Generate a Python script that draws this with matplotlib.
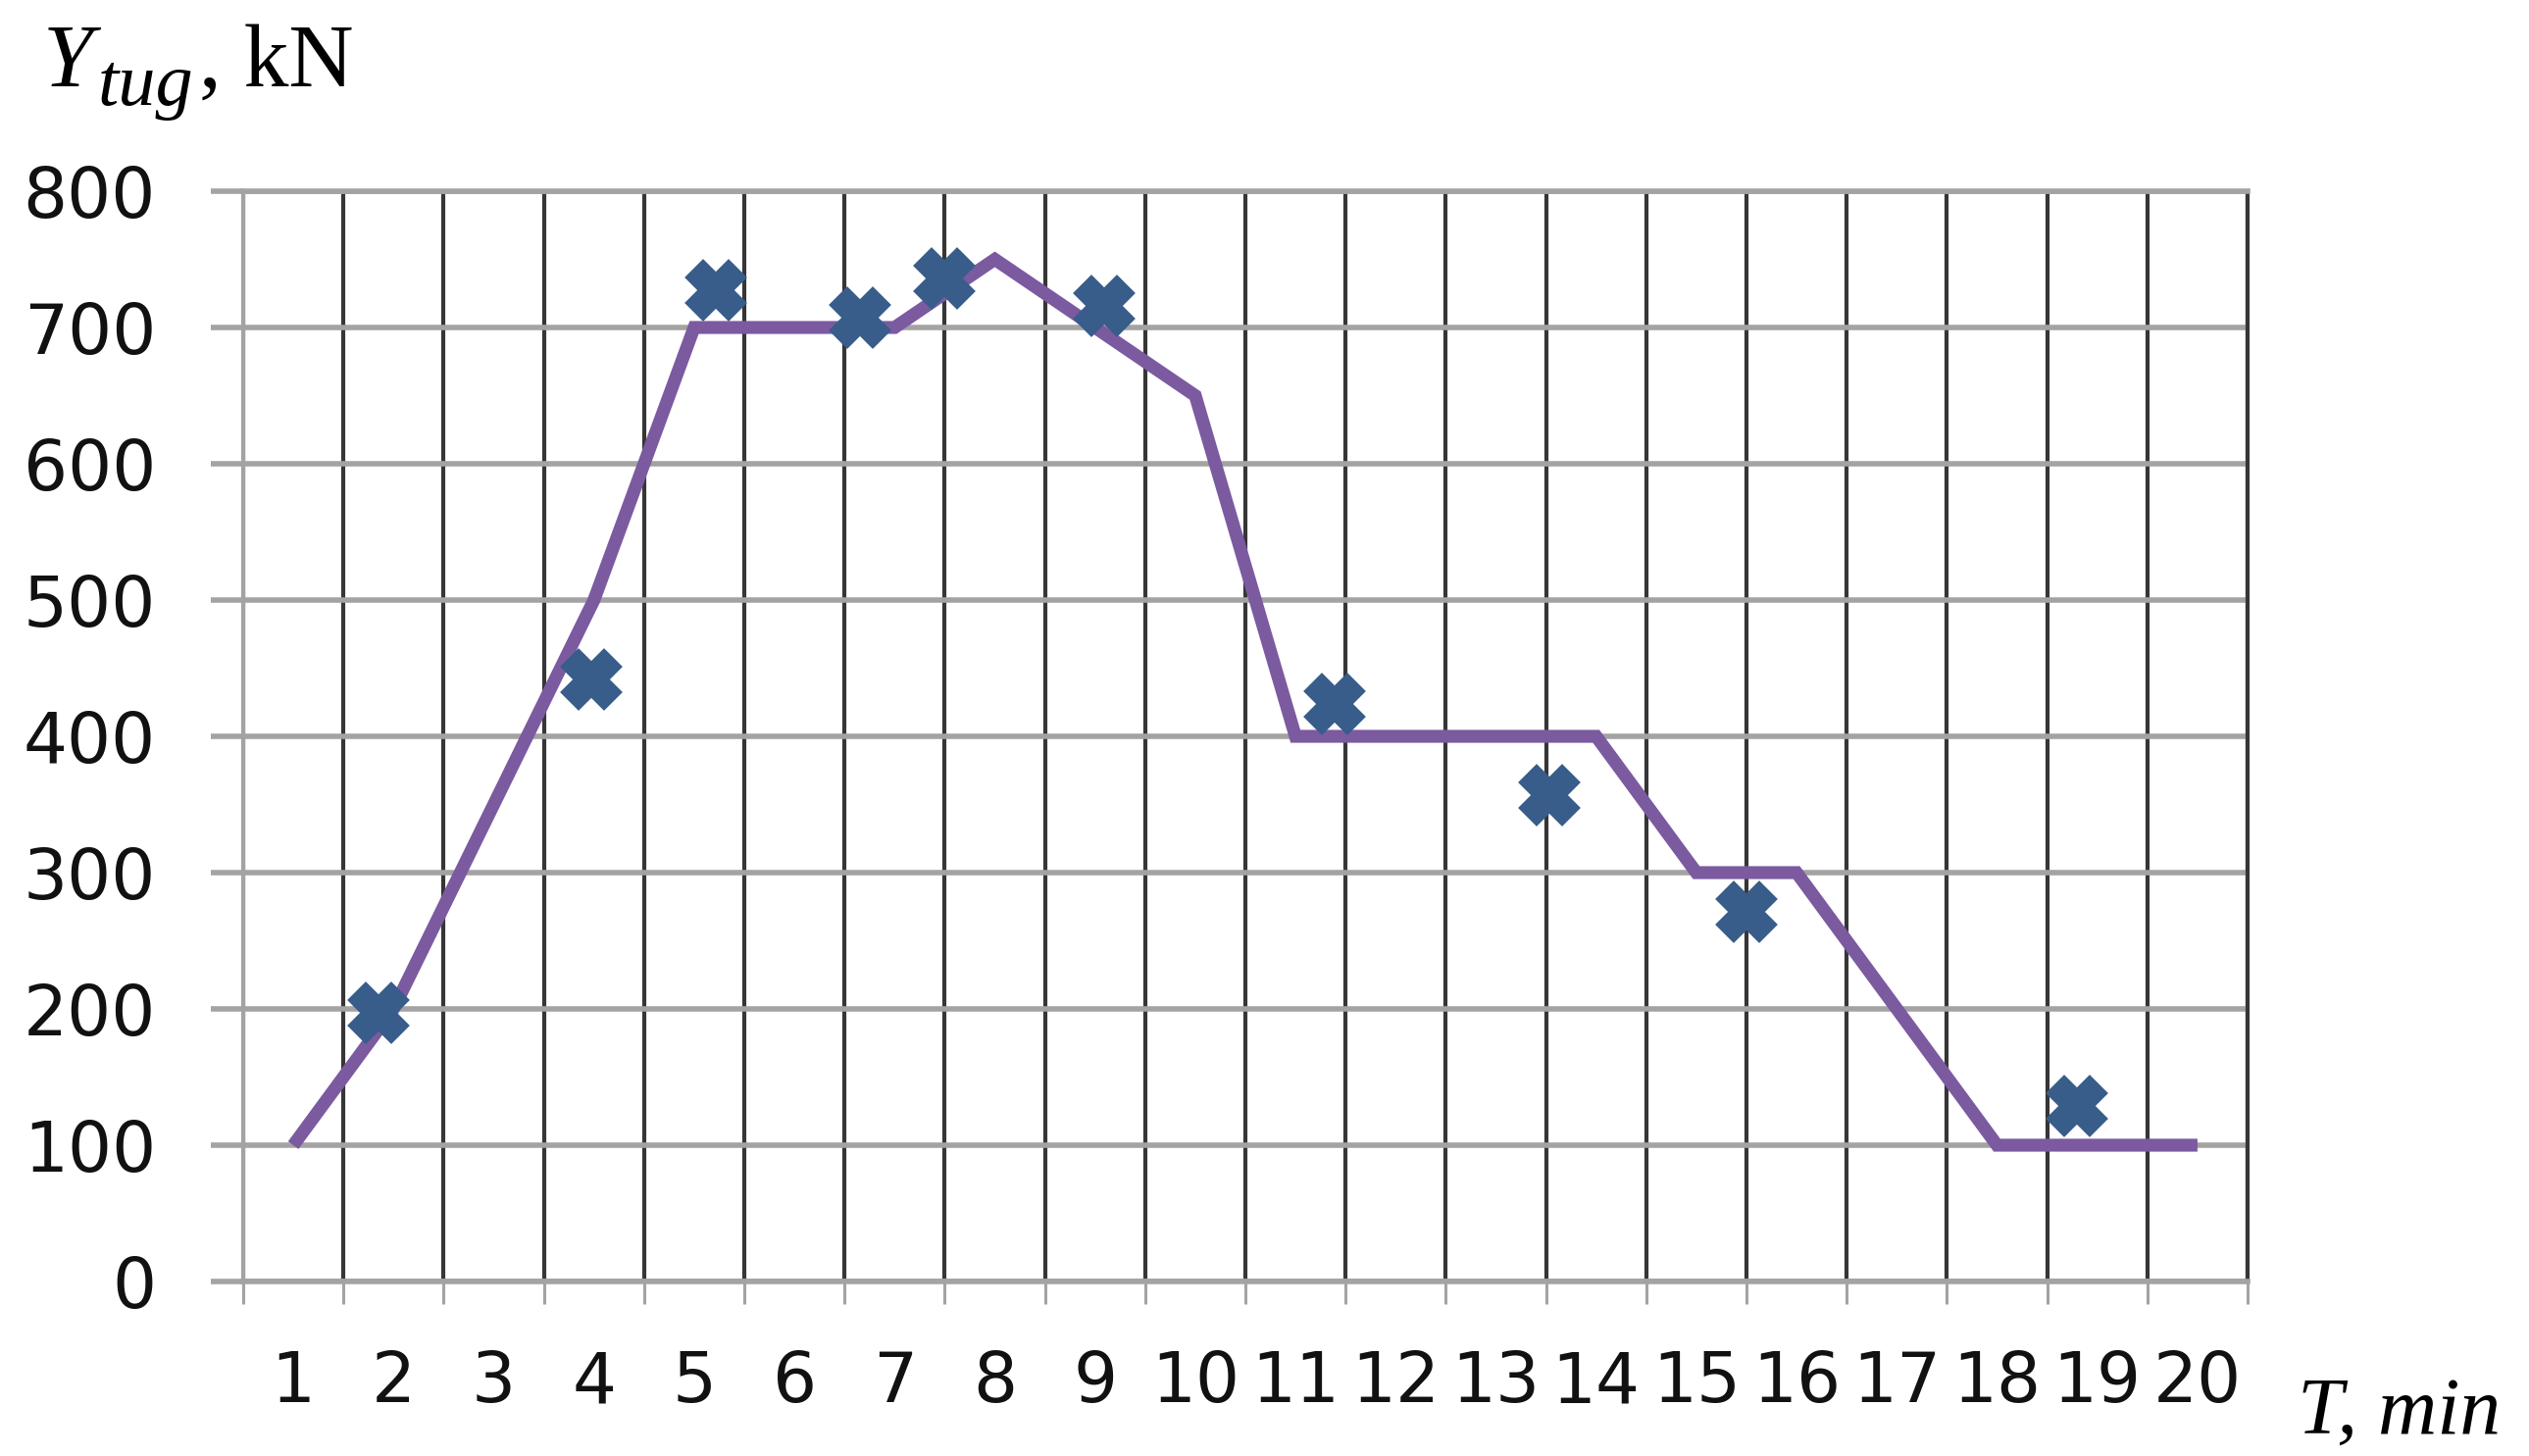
import matplotlib
matplotlib.use("Agg")
import matplotlib.pyplot as plt
import numpy as np

# ---- data ----
categories = list(range(1, 21))
line_values = [100, 200, 350, 500, 700, 700, 700, 750, 700, 650,
               400, 400, 400, 400, 300, 300, 200, 100, 100, 100]
marker_x = [1.85, 3.97, 5.22, 6.65, 7.50, 9.09, 11.39, 13.53, 15.50, 18.80]
marker_y = [197, 442, 727, 707, 736, 716, 424, 357, 271, 129]
y_ticks = [0, 100, 200, 300, 400, 500, 600, 700, 800]

W, H = 2579, 1485
DPI = 100
fig = plt.figure(figsize=(W / DPI, H / DPI), dpi=DPI)
ax = fig.add_axes([248 / W, 1 - 1307 / H, (2292 - 248) / W, (1307 - 195) / H])

LIGHT = "#A3A3A3"
DARK = "#363636"

ax.set_xlim(0.5, 20.5)
ax.set_ylim(0, 800)

# x: labels at category centers, ticks & gridlines at boundaries
ax.set_xticks(categories)
ax.set_xticklabels([str(c) for c in categories])
ax.set_xticks([c + 0.5 for c in [0] + categories], minor=True)
ax.tick_params(axis="x", which="major", length=0, pad=50, labelsize=51)
ax.tick_params(axis="x", which="minor", length=16.5, width=2.2, color=LIGHT,
               direction="out")
ax.grid(True, axis="x", which="minor", color=DARK, linewidth=3.0)

ax.set_yticks(y_ticks)
ax.tick_params(axis="y", which="major", length=24, width=4, color=LIGHT,
               pad=40, labelsize=51, direction="out")
ax.grid(True, axis="y", which="major", color=LIGHT, linewidth=4)
ax.set_axisbelow(True)

for lab in ax.get_xticklabels() + ax.get_yticklabels():
    lab.set_fontfamily("DejaVu Sans")
    lab.set_color("#111111")

ax.spines["left"].set_color(LIGHT)
ax.spines["left"].set_linewidth(3)
ax.spines["bottom"].set_color(LIGHT)
ax.spines["bottom"].set_linewidth(4)
ax.spines["top"].set_color(LIGHT)
ax.spines["top"].set_linewidth(4)
ax.spines["right"].set_color(DARK)
ax.spines["right"].set_linewidth(3.0)

# series
ax.plot(categories, line_values, color="#7B5AA0", linewidth=9.5,
        solid_joinstyle="miter", solid_capstyle="butt", zorder=3)
ax.plot(marker_x, marker_y, linestyle="none", marker="X", markersize=38,
        markerfacecolor="#385D8A", markeredgecolor="#385D8A",
        markeredgewidth=6, zorder=4)

# axis titles
serif = "Liberation Serif"
fig.text(44 / W, 1 - 88 / H, "Y", fontfamily=serif, fontstyle="italic",
         fontsize=66, ha="left", va="baseline")
fig.text(100 / W, 1 - 107 / H, "tug", fontfamily=serif, fontstyle="italic",
         fontsize=55, ha="left", va="baseline")
fig.text(203 / W, 1 - 88 / H, ", kN", fontfamily=serif,
         fontsize=66, ha="left", va="baseline")
fig.text(2343 / W, 1 - 1462 / H, "T, min", fontfamily=serif,
         fontstyle="italic", fontsize=60, ha="left", va="baseline")

fig.savefig("out.png", dpi=DPI, facecolor="white")
